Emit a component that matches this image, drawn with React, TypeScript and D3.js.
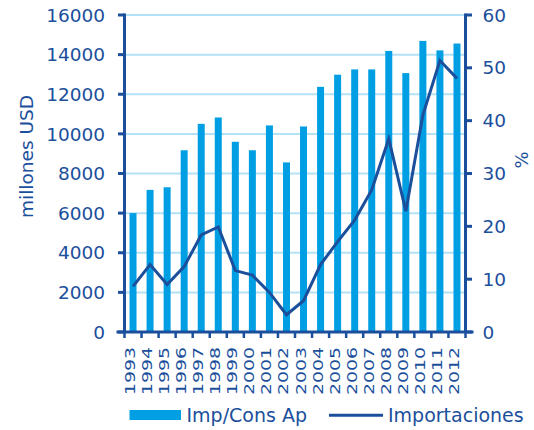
import React from "react";
import * as d3 from "d3";

const years = [
  "1993", "1994", "1995", "1996", "1997", "1998", "1999", "2000", "2001", "2002",
  "2003", "2004", "2005", "2006", "2007", "2008", "2009", "2010", "2011", "2012",
];
// Imp/Cons Ap, percent (right axis)
const impConsAp = [
  22.5, 26.9, 27.4, 34.4, 39.4, 40.6, 36.0, 34.4, 39.1, 32.1,
  38.9, 46.4, 48.7, 49.7, 49.7, 53.2, 49.0, 55.1, 53.3, 54.6,
];
// Importaciones, millones USD (left axis)
const importaciones = [
  2300, 3400, 2400, 3300, 4900, 5300, 3100, 2870, 2000, 870,
  1580, 3400, 4560, 5650, 7170, 9750, 6100, 10950, 13700, 12800,
];
const leftTicks = [0, 2000, 4000, 6000, 8000, 10000, 12000, 14000, 16000];
const rightTicks = [0, 10, 20, 30, 40, 50, 60];

const W = 534;
const H = 430;
const DARK = "#1b4f9c";
const BAR = "#009fe3";
const GRID = "#b3e1f6";
const FONT = "'DejaVu Sans', sans-serif";

export default function App() {
  const left = 124.5;
  const right = 465.5;
  const top = 15;
  const bottom = 332;

  const x = d3
    .scaleBand<string>()
    .domain(years)
    .range([left, right])
    .paddingInner(0.59)
    .paddingOuter(0.295);
  const step = x.step();
  const yL = d3.scaleLinear().domain([0, 16000]).range([bottom, top]);
  const yR = d3.scaleLinear().domain([0, 60]).range([bottom, top]);

  const line = d3
    .line<number>()
    .x((_, i) => (x(years[i]) as number) + x.bandwidth() / 2)
    .y((d) => yL(d));

  return (
    <svg
      width={W}
      height={H}
      style={{ position: "absolute", left: 0, top: 0, background: "#fff" }}
      fontFamily={FONT}
    >
      {/* gridlines */}
      {leftTicks.slice(1).map((t) => (
        <line key={t} x1={left} x2={right} y1={yL(t)} y2={yL(t)} stroke={GRID} strokeWidth={2} />
      ))}

      {/* bars */}
      {impConsAp.map((v, i) => (
        <rect
          key={years[i]}
          x={x(years[i])}
          y={yR(v)}
          width={x.bandwidth()}
          height={bottom - yR(v)}
          fill={BAR}
        />
      ))}

      {/* line */}
      <path d={line(importaciones) || ""} fill="none" stroke={DARK} strokeWidth={3} strokeLinejoin="miter" />

      {/* left axis */}
      <line x1={left} x2={left} y1={top - 1.5} y2={bottom} stroke={DARK} strokeWidth={3} />
      {leftTicks.map((t) => (
        <g key={t}>
          <line x1={left - 6.5} x2={left} y1={yL(t)} y2={yL(t)} stroke={DARK} strokeWidth={3} />
          <text
            x={105}
            y={yL(t)}
            dy="0.36em"
            textAnchor="end"
            fontSize={18.5}
            fill={DARK}
          >
            {t}
          </text>
        </g>
      ))}

      {/* right axis */}
      <line x1={right} x2={right} y1={top - 1.5} y2={bottom} stroke={DARK} strokeWidth={3} />
      {rightTicks.map((t) => (
        <g key={t}>
          <line x1={right} x2={right + 6.5} y1={yR(t)} y2={yR(t)} stroke={DARK} strokeWidth={3} />
          <text x={482.5} y={yR(t)} dy="0.36em" textAnchor="start" fontSize={18.5} fill={DARK}>
            {t}
          </text>
        </g>
      ))}

      {/* bottom axis */}
      <line x1={left - 8} x2={right + 8} y1={bottom} y2={bottom} stroke={DARK} strokeWidth={3} />
      {d3.range(years.length + 1).map((i) => (
        <line
          key={i}
          x1={left + i * step}
          x2={left + i * step}
          y1={bottom}
          y2={bottom + 6}
          stroke={DARK}
          strokeWidth={2.5}
        />
      ))}
      {years.map((yr) => (
        <text
          key={yr}
          transform={`translate(${(x(yr) as number) + x.bandwidth() / 2 + 2},347) rotate(-90)`}
          textAnchor="end"
          fontSize={13.5}
          fill={DARK}
          textLength={48}
          lengthAdjust="spacingAndGlyphs"
        >
          {yr}
        </text>
      ))}

      {/* axis titles */}
      <text
        transform="translate(33,156.5) rotate(-90)"
        textAnchor="middle"
        fontSize={17}
        fill={DARK}
        textLength={123}
        lengthAdjust="spacingAndGlyphs"
      >
        millones USD
      </text>
      <text transform="translate(528,160) rotate(-90)" textAnchor="middle" fontSize={18} fill={DARK}>
        %
      </text>

      {/* legend */}
      <rect x={129.5} y={410} width={51.5} height={10} fill={BAR} />
      <text x={186.5} y={421.5} fontSize={19} fill={DARK}>
        Imp/Cons Ap
      </text>
      <line x1={329} x2={383} y1={415.3} y2={415.3} stroke={DARK} strokeWidth={3} />
      <text x={388} y={421.5} fontSize={19} fill={DARK}>
        Importaciones
      </text>
    </svg>
  );
}
